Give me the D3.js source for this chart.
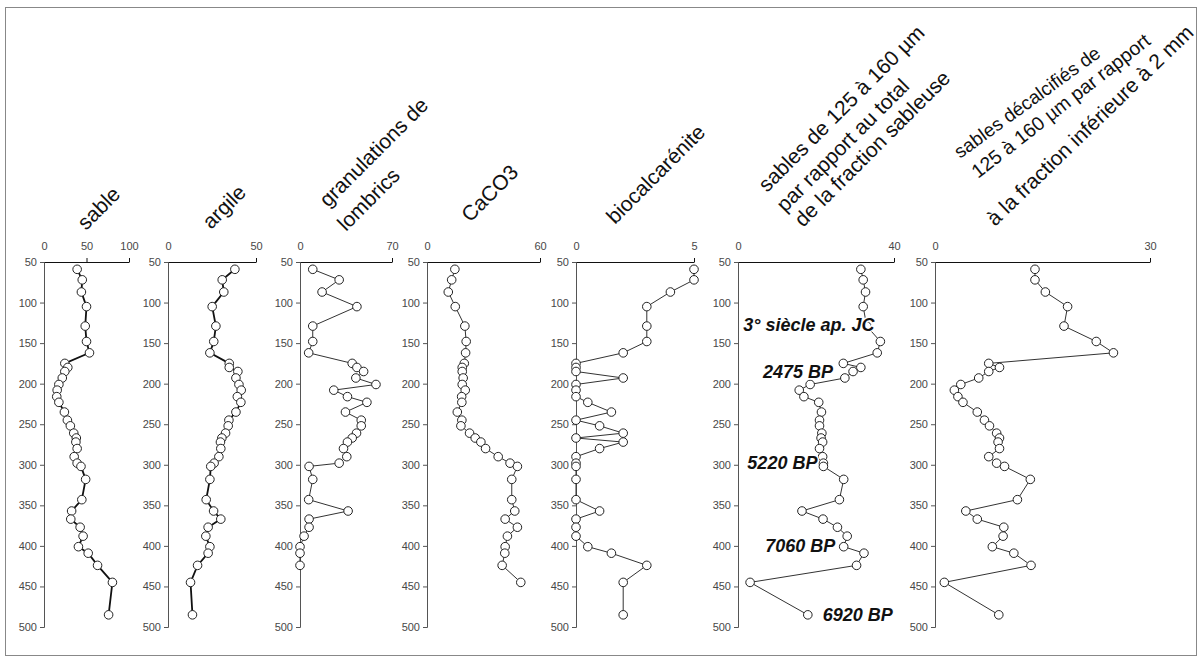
<!DOCTYPE html>
<html><head><meta charset="utf-8">
<script src="https://cdn.jsdelivr.net/npm/d3@7"></script>
<style>
body{margin:0;background:#fff}
svg{display:block}
text{font-family:"Liberation Sans",Arial,sans-serif}
.tick text{fill:#484848;font-size:11px}
</style>
</head><body><svg id="chart" width="1203" height="658"></svg>
<script>
// ---- data (depth in cm, shared by all profiles) ----
const depths = [59,72,87,105,129,148,162,175,180,185,193,201,208,216,223,235,245,252,261,267,272,280,290,298,302,318,343,357,367,377,388,401,409,424,445,485];
const sable = [39,45,44,50,48.5,50,53.5,24.5,28,24.5,21.5,17.5,15.5,15,17.5,24,27.5,31,35,38,37.5,39,35.5,39,43.5,49,44.5,32.5,31.5,42.5,46,40.5,52,63,80.5,76];
const argile = [38,30.8,31.7,25.1,27.2,26,23.8,34.8,34.8,39.7,38.6,40.3,41.6,39.4,41.4,38.6,34.6,34.2,32.7,30.6,29.8,30,28.9,26.2,24.3,23.8,21.7,25.9,30,22.8,21.5,23.8,22.8,16.8,12.8,13.9];
const lombrics = [9.7,29.8,16.8,43.3,9.7,9.7,6.6,39.7,43.3,48.4,42.5,57.8,25.7,36.1,50.9,34.6,46.6,46.6,43,39.7,36.1,33.1,35.6,29.8,6.9,9.7,6.6,36.6,6.9,6.9,3.1,0,0,0];
const caco3 = [14.8,13.1,11.3,15,20.1,20.8,20.5,19.8,18.7,18.7,19.2,18.7,20.3,18.4,18.5,16.1,18.5,18,22.6,25.6,28.6,31.1,37.8,44.1,48,45,45,46.6,41.5,48,42.7,41.5,41.3,39.9,49.8];
const biocal = [5,5,4,3,3,3,2,0,0,0,2,0,0,0,0.5,1.5,0,1,2,0,2,1,0,0,0,0,0,1,0,0,0,0.5,1.5,3,2,2];
const fracSable = [31.5,32.1,32.7,32.1,33,36.5,35.7,27,31.5,29.5,27.4,18.5,15.7,16.9,20.7,21.4,20.9,20.9,21.5,21.3,21.7,20.9,21.7,21.9,21.9,27.1,26,16.4,21.8,25.5,28,27.1,32.3,30.4,3.1,17.9];
const decalc = [13.95,13.95,15.4,18.5,18,22.5,24.9,7.5,9,7.5,6.1,3.6,2.7,3.2,3.9,5.9,6.9,7.6,8.6,9,8.8,9,7.5,8.6,9.7,13.3,11.5,4.3,5.9,9.6,9.5,8,11,13.4,1.3,8.9];

const depthTicks = [50,100,150,200,250,300,350,400,450,500];
const titles = [
  ["sable"],
  ["argile"],
  ["granulations de","lombrics"],
  ["CaCO3"],
  ["biocalcarénite"],
  ["sables de 125 à 160 µm","par rapport au total","de la fraction sableuse"],
  ["sables décalcifiés de","125 à 160 µm par rapport","à la fraction inférieure à 2 mm"]
];
const seriesList = [sable, argile, lombrics, caco3, biocal, fracSable, decalc];
const maxima = [100, 50, 70, 60, 5, 40, 30];
const topTicks = [[0,50,100],[0,50],[0,70],[0,60],[0,5],[0,40],[0,30]];
const dates = ["3° siècle ap. JC","2475 BP","5220 BP","7060 BP","6920 BP"];
const dateDepths = [135, 193.5, 305, 408, 492.5];
const dateValues = [1.35, 6.4, 2.4, 7.0, 21.7];

// ---- layout ----
// tpos: [dx from axis, baseline y, angle, font size]
const layout = [
  {x0:44,  x1:129,  heavy:true,  tpos:[[42,231,-45,21]]},
  {x0:168, x1:256,  heavy:true,  tpos:[[43,230,-45,21]]},
  {x0:300, x1:392,  heavy:false, tpos:[[28,208,-45,21],[46,232,-45,21]]},
  {x0:427, x1:540,  heavy:false, tpos:[[43,223,-45,21]]},
  {x0:576, x1:694,  heavy:false, tpos:[[39,225,-45,21]]},
  {x0:738, x1:894,  heavy:false, tpos:[[29,193,-45,21],[47,213,-45,21],[65,228,-45,21]]},
  {x0:935, x1:1150, heavy:false, tpos:[[25,159,-36,19],[43,179,-38,19.5],[60,227,-44,21]]}
];

const svg = d3.select("#chart");
svg.append("rect").attr("x",5.5).attr("y",7.5).attr("width",1191).attr("height",648)
  .attr("fill","none").attr("stroke","#888").attr("stroke-width",1);

const y = d3.scaleLinear().domain([50,500]).range([262,627]);

layout.forEach((L,i)=>{
  const vals = seriesList[i];
  const x = d3.scaleLinear().domain([0,maxima[i]]).range([L.x0,L.x1]);
  const g = svg.append("g");

  // left depth axis
  const ya = g.append("g").attr("transform",`translate(${L.x0},0)`)
    .call(d3.axisLeft(y).tickValues(depthTicks).tickSize(4).tickPadding(3).tickFormat(d3.format("d")));
  ya.attr("font-family",null).attr("font-size",null);
  ya.select(".domain").attr("stroke","#555");
  ya.selectAll(".tick line").attr("stroke","#555");
  ya.selectAll(".tick text").attr("fill",null).attr("transform","rotate(0.02)");

  // top value axis
  const xa = g.append("g").attr("transform",`translate(0,${y(50)})`)
    .call(d3.axisTop(x).tickValues(topTicks[i]).tickSize(4).tickSizeOuter(0).tickPadding(8).tickFormat(d3.format("d")));
  xa.attr("font-family",null).attr("font-size",null);
  xa.select(".domain").attr("stroke","#111");
  xa.selectAll(".tick line").attr("stroke","#111").attr("y2", d=> d===0? 0 : -4);
  xa.selectAll(".tick text").attr("fill",null).attr("transform","rotate(0.02)");

  const pts = vals.map((v,k)=>({v, d:depths[k]}));
  g.append("path").datum(pts)
    .attr("fill","none").attr("stroke", L.heavy? "#111":"#333")
    .attr("stroke-width", L.heavy? 1.8:1)
    .attr("d", d3.line().x(p=>x(p.v)).y(p=>y(p.d)));
  g.selectAll("circle").data(pts).join("circle")
    .attr("cx",p=>x(p.v)).attr("cy",p=>y(p.d)).attr("r",4.3)
    .attr("fill","#fff").attr("stroke","#222").attr("stroke-width",1);

  // rotated title
  titles[i].forEach((line,j)=>{
    const [dx,ty,ang,fs] = L.tpos[j];
    g.append("text").attr("transform",`translate(${L.x0+dx},${ty}) rotate(${ang})`)
      .attr("fill","#111").style("font-size",fs+"px").text(line);
  });

  if(i===5){
    dates.forEach((t,k)=>{
      g.append("text").attr("x",x(dateValues[k])).attr("y",y(dateDepths[k]))
        .attr("fill","#111").style("font-size","18px").style("font-weight","bold").style("font-style","italic")
        .attr("stroke","#fff").attr("stroke-width",3).attr("paint-order","stroke")
        .text(t);
    });
  }
});
</script>
</body></html>
